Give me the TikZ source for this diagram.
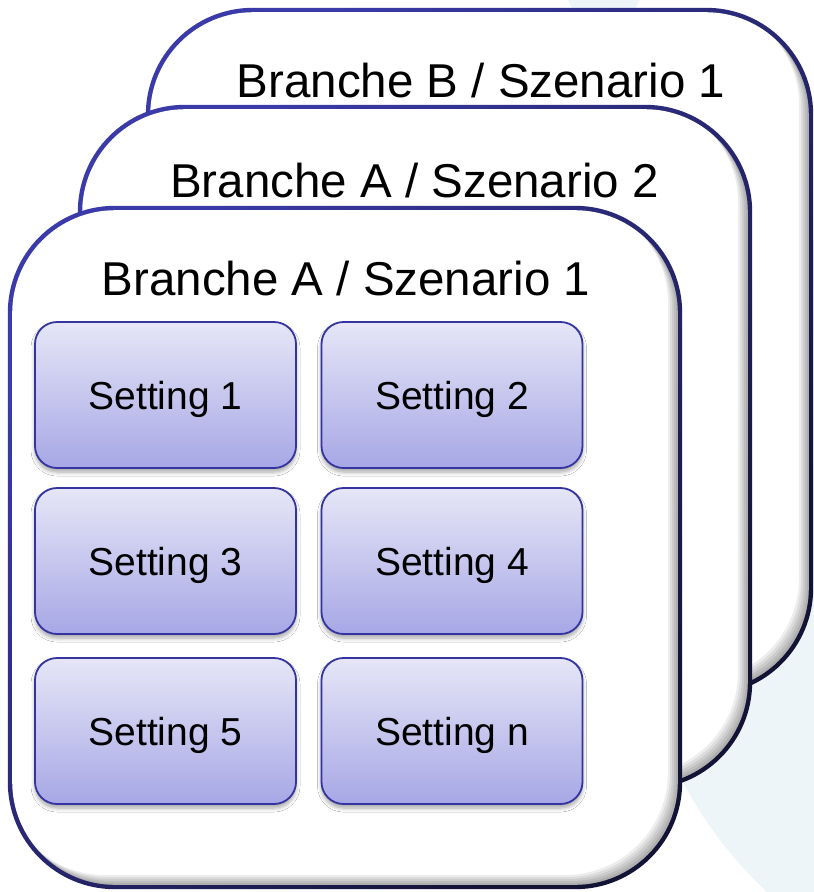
\documentclass[tikz,border=0pt]{standalone}
\usepackage{fontspec}
\setmainfont{Liberation Sans}
\usetikzlibrary{shadows.blur}
\definecolor{bgblue}{HTML}{EEF5F8}
\definecolor{edgetop}{HTML}{3A3AA8}
\definecolor{edgebot}{HTML}{131336}
\definecolor{settop}{HTML}{E6E6F7}
\definecolor{setbot}{HTML}{A7A7E6}
\definecolor{setedge}{HTML}{3434A0}
\newcommand\bigcard[4]{%
  \shade[top color=edgetop, bottom color=edgebot, shading angle=45, rounded corners=107pt] (#1-2.2,#2-2.2) rectangle (#3+2.2,#4+2.2);
  \fill[white, rounded corners=103pt] (#1+2.2,#2+2.2) rectangle (#3-2.2,#4-2.2);
  \begin{scope}
    \clip[rounded corners=103pt] (#1+2.2,#2+2.2) rectangle (#3-2.2,#4-2.2);
    \foreach \s in {2,4,6,8,10}{
      \fill[black, opacity=0.07, even odd rule, rounded corners=103pt] (#1-80,#2-80) rectangle (#3+80,#4+80) (#1+2-\s,#2+2-\s) rectangle (#3-2-\s,#4-2-\s);
    }
  \end{scope}
}
\tikzset{
  cardtitle/.style={font=\fontsize{47.5}{57}\selectfont, anchor=base, inner sep=0pt},
  settingbox/.style={rounded corners=22pt, minimum width=261pt, minimum height=146pt,
    draw=setedge, line width=1.8pt, top color=settop, bottom color=setbot,
    font=\fontsize{39}{47}\selectfont, text height=28pt, text depth=0pt, inner sep=0pt,
    blur shadow={shadow xshift=0pt, shadow yshift=-4pt, shadow blur steps=6, shadow blur radius=4pt, shadow opacity=35}}
}
\begin{document}
\begin{tikzpicture}[x=1pt, y=-1pt]
\useasboundingbox (0,0) rectangle (814,892);
\clip (0,0) rectangle (814,892);
\fill[white] (0,0) rectangle (814,892);
% background shapes
\fill[bgblue] (1055,585) circle (421pt);
\fill[bgblue] (568,0) -- (640,0) -- (633,12) -- (574,12) -- cycle;
% back card
\bigcard{148}{10}{811}{693}
\node[cardtitle] (tC) at (481,97) {Branche B / Szenario 1};
% middle card
\bigcard{80}{107}{750}{787}
\node[cardtitle] (tB) at (414.5,197) {Branche A / Szenario 2};
% front card
\bigcard{10}{208}{680}{887}
\node[cardtitle] (tA) at (346,295) {Branche A / Szenario 1};
% settings
\node[settingbox] (s1) at (165.5,395) {Setting 1};
\node[settingbox] (s2) at (452,395) {Setting 2};
\node[settingbox] (s3) at (165.5,561) {Setting 3};
\node[settingbox] (s4) at (452,561) {Setting 4};
\node[settingbox] (s5) at (165.5,731) {Setting 5};
\node[settingbox] (s6) at (452,731) {Setting n};
\end{tikzpicture}
\end{document}
